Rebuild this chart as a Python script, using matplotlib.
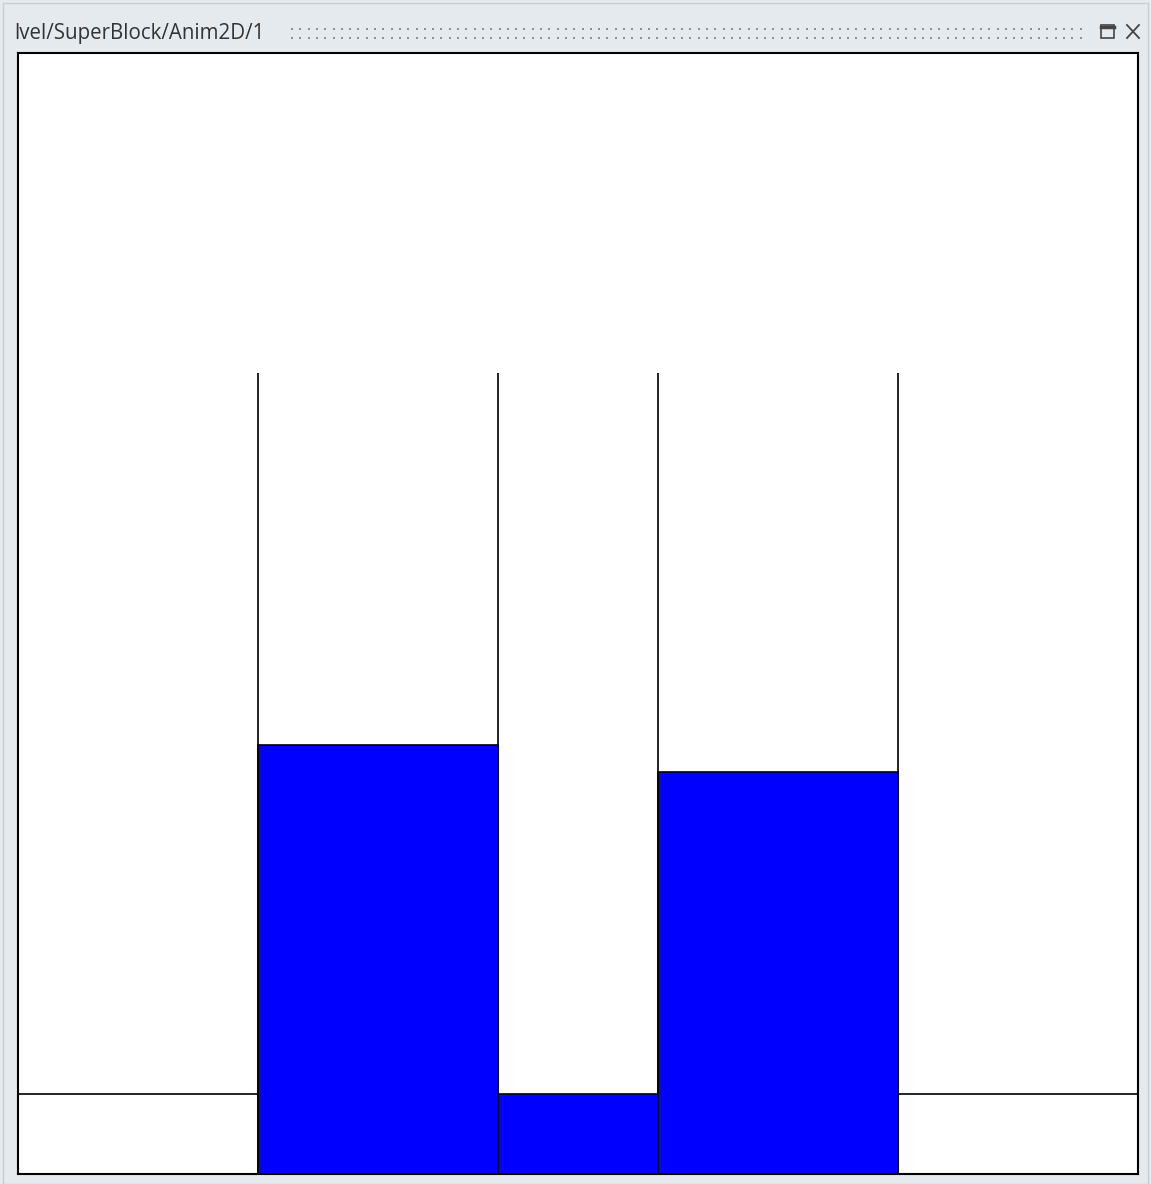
import numpy as np
import matplotlib.pyplot as plt
from matplotlib.patches import Rectangle

# scene data (units: 1 unit = wall spacing grid)
title = "lvel/SuperBlock/Anim2D/1"
tank_left = [3.0, 8.0]      # left edge of each tank
tank_width = 3.0
tank_height = 10.0
tank_level = [5.36, 5.02]   # water level in each tank
pipe_left = 6.0
pipe_width = 2.0
pipe_level = 1.0
ground_level = 1.0
x_max, y_max = 14.0, 14.0

W, H = 1151, 1184
fig = plt.figure(figsize=(W / 100, H / 100), dpi=100)
fig.patch.set_facecolor("#e4eaee")

# window chrome
fig.add_artist(Rectangle((3 / W, 0), (W - 6) / W, (H - 3) / H, transform=fig.transFigure,
                         fill=False, edgecolor="#c8cdd1", lw=1))
fig.text(14 / W, 1 - 33 / H, title, fontsize=14.8, color="#333333", va="center", ha="left",
         family="Open Sans")
gx = np.arange(292, 1082, 8.3)
for gy in (29, 38):
    fig.add_artist(plt.Line2D(gx / W, np.full(gx.size, 1 - gy / H), transform=fig.transFigure,
                              ls="none", marker="s", ms=2.0, color="#8f8f8f", mew=0))
fig.add_artist(Rectangle((1101 / W, 1 - 38 / H), 13 / W, 13 / H, transform=fig.transFigure,
                         fill=False, edgecolor="#444444", lw=1.2))
fig.add_artist(plt.Line2D([1101 / W, 1114 / W], [1 - 27 / H] * 2, transform=fig.transFigure,
                          color="#444444", lw=2.5))
fig.add_artist(plt.Line2D([1127 / W, 1139 / W], [1 - 25 / H, 1 - 38 / H], transform=fig.transFigure,
                          color="#444444", lw=1.3))
fig.add_artist(plt.Line2D([1127 / W, 1139 / W], [1 - 38 / H, 1 - 25 / H], transform=fig.transFigure,
                          color="#444444", lw=1.3))

ax = fig.add_axes([18 / W, 10 / H, 1120 / W, 1121 / H])
ax.set_facecolor("white")

# water
ax.bar(tank_left, tank_level, width=tank_width, align="edge", color="blue",
       edgecolor="black", lw=1.2, zorder=2)
ax.bar(pipe_left, pipe_level, width=pipe_width, align="edge", color="blue",
       edgecolor="black", lw=1.2, zorder=2)

# tank walls and ground
for xl in tank_left:
    ax.vlines([xl, xl + tank_width], 0, tank_height, color="black", lw=1.2, zorder=3)
ax.hlines(ground_level, 0, tank_left[0], color="black", lw=1.2)
ax.hlines(ground_level, tank_left[1] + tank_width, x_max, color="black", lw=1.2)

ax.set_xlim(0, x_max)
ax.set_ylim(0, y_max)
ax.set_xticks([])
ax.set_yticks([])
for s in ax.spines.values():
    s.set_linewidth(1.5)
    s.set_color("black")

fig.savefig("out.png", dpi=100, facecolor=fig.get_facecolor())
